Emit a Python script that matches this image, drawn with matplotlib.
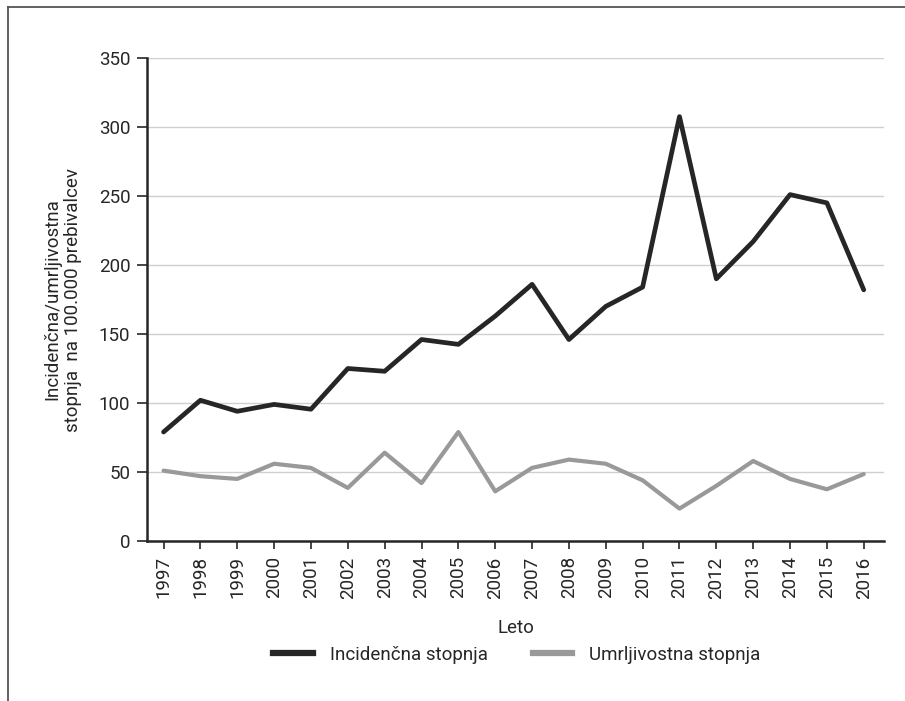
import matplotlib.pyplot as plt
from matplotlib.lines import Line2D

plt.rcParams['font.family'] = ['Roboto', 'DejaVu Sans']

# data
years = [str(y) for y in range(1997, 2017)]
incidenca = [79, 102, 94, 99, 95.5, 125, 123, 146, 142.5, 163,
             186, 146, 170, 184, 307.5, 190, 217, 251, 245, 182]
umrljivost = [51, 47, 45, 56, 53, 38.5, 64, 42, 79, 36,
              53, 59, 56, 44, 23.5, 40, 58, 45, 37.5, 48.5]
yticks = [0, 50, 100, 150, 200, 250, 300, 350]

fig = plt.figure(figsize=(9.05, 7.01), dpi=100)
ax = fig.add_axes([0.1624, 0.2282, 0.8144, 0.6891])

x = list(range(len(years)))
ax.plot(x, incidenca, color='#262626', lw=3.4, solid_joinstyle='round',
        solid_capstyle='round', label='Incidenčna stopnja', zorder=3)
ax.plot(x, umrljivost, color='#999999', lw=3.0, solid_joinstyle='round',
        solid_capstyle='round', label='Umrljivostna stopnja', zorder=3)

ax.set_xlim(-0.45, 19.55)
ax.set_ylim(0, 350)
ax.set_yticks(yticks)
ax.set_xticks(x)
ax.set_xticklabels(years, rotation=90)
ax.yaxis.grid(True, color='#cfcfcf', lw=1.0)
ax.set_axisbelow(True)

for s in ['top', 'right']:
    ax.spines[s].set_visible(False)
for s in ['left', 'bottom']:
    ax.spines[s].set_color('#262626')
    ax.spines[s].set_linewidth(1.8)
ax.tick_params(axis='both', colors='#262626', labelsize=13.5, width=1.2,
               length=6, direction='out', pad=5)
ax.tick_params(axis='y', length=7)

ax.set_xlabel('Leto', fontsize=13.5, color='#262626', labelpad=15)
ax.set_ylabel('Incidenčna/umrljivostna\nstopnja  na 100.000 prebivalcev',
              fontsize=13.5, color='#262626', labelpad=12)

handles = [Line2D([], [], color='#262626', lw=4.5),
           Line2D([], [], color='#999999', lw=4.5)]
fig.legend(handles, ['Incidenčna stopnja', 'Umrljivostna stopnja'],
           loc='center', bbox_to_anchor=(0.571, 0.066), ncol=2, frameon=False,
           fontsize=13.5, handlelength=2.1, handletextpad=0.9, columnspacing=2.4,
           labelcolor='#262626')

# frame of the figure (left and top edges only)
fig.add_artist(Line2D([0.0085, 0.0085], [0, 0.99], color='#555555', lw=1.3,
                      transform=fig.transFigure))
fig.add_artist(Line2D([0.0085, 1.0], [0.99, 0.99], color='#555555', lw=1.3,
                      transform=fig.transFigure))

fig.savefig('out.png', dpi=100)
